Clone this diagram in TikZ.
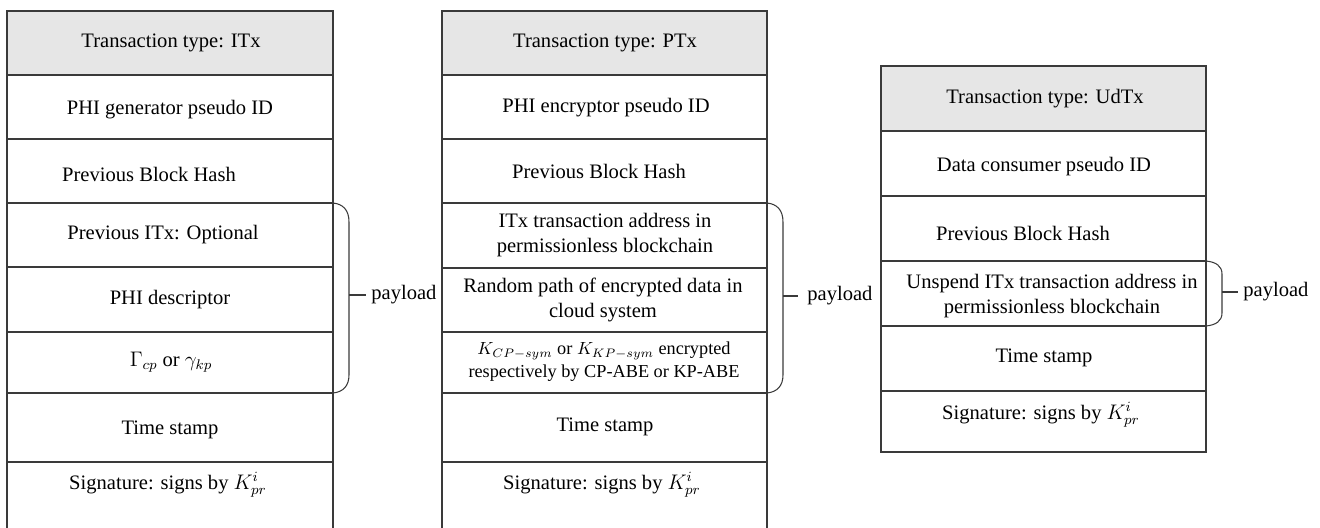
\documentclass[tikz,border=0pt]{standalone}
\usepackage{amsmath,amssymb}
\usepackage{fontspec}
\setmainfont{Liberation Serif}
\usetikzlibrary{positioning}
\definecolor{headGray}{HTML}{E6E6E6}
\definecolor{lineGray}{HTML}{3A3A3A}
\tikzset{
  field/.style={font=\fontsize{11.7}{14.2}\selectfont, align=center, inner sep=0pt},
  smallfield/.style={font=\fontsize{10.4}{13}\selectfont, align=center, inner sep=0pt},
  cellline/.style={draw=lineGray, line width=0.7pt},
  brace/.style={draw=lineGray, line width=0.6pt},
}

\begin{document}
\begin{tikzpicture}[x=0.02cm, y=-0.02cm]
  \useasboundingbox (0,0) rectangle (1320,528);

  % ITx column
  \fill[headGray] (7,11) rectangle (333,75);
  \draw[cellline] (7,540) -- (7,11) -- (333,11) -- (333,540);
  \foreach \y in {75,139,203,267,332,393,462}
    \draw[cellline] (7,\y) -- (333,\y);
  \node[field] (itype) at (171,43) {Transaction type: ITx};
  \node[field] (igen) at (170,110) {PHI generator pseudo ID};
  \node[field] (ihash) at (149,174) {Previous Block Hash};
  \node[field] (iprev) at (163,235) {Previous ITx: Optional};
  \node[field] (idesc) at (170,300) {PHI descriptor};
  \node[field] (igam) at (171,362) {$\Gamma_{cp}$ or $\gamma_{kp}$};
  \node[field] (itime) at (170,430) {Time stamp};
  \node[field] (isig) at (168,485) {Signature: signs by $K_{pr}^{i}$};

  % PTx column
  \fill[headGray] (442,11) rectangle (767,75);
  \draw[cellline] (442,540) -- (442,11) -- (767,11) -- (767,540);
  \foreach \y in {75,139,203,268,332,393,462}
    \draw[cellline] (442,\y) -- (767,\y);
  \node[field] (ptype) at (605,43) {Transaction type: PTx};
  \node[field] (penc) at (606,108) {PHI encryptor pseudo ID};
  \node[field] (phash) at (599,171) {Previous Block Hash};
  \node[field] (paddr) at (605,235) {ITx transaction address in\\permissionless blockchain};
  \node[field] (ppath) at (603,300) {Random path of encrypted data in\\cloud system};
  \node[smallfield] (pkey) at (604,362) {$K_{CP-sym}$ or $K_{KP-sym}$ encrypted\\respectively by CP-ABE or KP-ABE};
  \node[field] (ptime) at (605,427) {Time stamp};
  \node[field] (psig) at (602,485) {Signature: signs by $K_{pr}^{i}$};

  % UdTx column
  \fill[headGray] (881,66) rectangle (1206,131);
  \draw[cellline] (881,66) rectangle (1206,452);
  \foreach \y in {131,196,261,326,391}
    \draw[cellline] (881,\y) -- (1206,\y);
  \node[field] (utype) at (1045,99) {Transaction type: UdTx};
  \node[field] (ucons) at (1044,167) {Data consumer pseudo ID};
  \node[field] (uhash) at (1023,233) {Previous Block Hash};
  \node[field] (uaddr) at (1052,296) {Unspend ITx transaction address in\\permissionless blockchain};
  \node[field] (utime) at (1044,358) {Time stamp};
  \node[field] (usig) at (1041,415) {Signature: signs by $K_{pr}^{i}$};

  % payload braces
  \draw[brace] (333,203) .. controls (343,204) and (349,210) .. (349,222) -- (349,375)
    .. controls (349,386) and (343,392) .. (333,393);
  \node[field, anchor=west] (ipay) at (371,295) {payload};
  \draw[brace] (349,295) -- (ipay.west -| 366,0);

  \draw[brace] (767,203) .. controls (777,204) and (783,210) .. (783,222) -- (783,375)
    .. controls (783,386) and (777,392) .. (767,393);
  \node[field, anchor=west] (ppay) at (807,296) {payload};
  \draw[brace] (783,296) -- (ppay.west -| 798,0);

  \draw[brace] (1206,261) .. controls (1216,262) and (1222,266) .. (1222,274) -- (1222,313)
    .. controls (1222,321) and (1216,325) .. (1206,326);
  \node[field, anchor=west] (upay) at (1243,292) {payload};
  \draw[brace] (1222,292) -- (upay.west -| 1238,0);
\end{tikzpicture}
\end{document}
